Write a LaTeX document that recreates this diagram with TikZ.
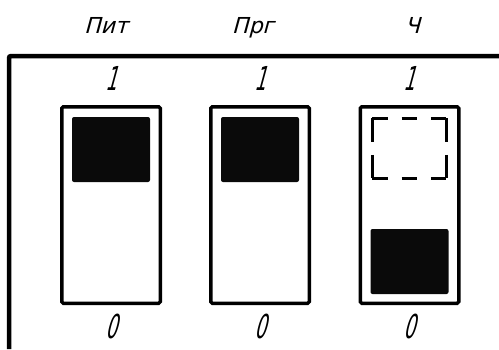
\documentclass[tikz,border=0pt]{standalone}
\usepackage{fontspec}
\newfontfamily\gostname{DejaVu Sans}[FakeSlant=0.27,FakeStretch=1.0]
\newfontfamily\gostdigit{DejaVu Sans}[FakeSlant=0.27,FakeStretch=0.55]
\usetikzlibrary{positioning}
\tikzset{
  switchbox/.style={draw, line width=3.5pt, rounded corners=1.5pt, minimum width=98.5pt, minimum height=196.5pt, inner sep=0pt},
  knob/.style={fill=black!96, rounded corners=2pt, minimum width=78pt, minimum height=65pt, inner sep=0pt},
  ghost/.style={draw=none, minimum width=74pt, minimum height=60pt, inner sep=0pt},
  digit/.style={font=\gostdigit\fontsize{33}{33}\selectfont, inner sep=0pt, anchor=base},
  switchname/.style={font=\gostname\fontsize{22}{22}\selectfont, inner sep=0pt, anchor=base}
}

\begin{document}
\begin{tikzpicture}[x=1pt,y=-1pt,line join=miter]
\useasboundingbox (0,0) rectangle (499,349);
\draw[line width=4.5pt, rounded corners=2pt] (499,56) -- (9,56) -- (9,349);
\foreach \s/\x/\dx/\lbl in {pit/111/-5/Пит, prg/260/-7/Прг, ch/409.5/3/Ч}{
  \node[switchbox] (\s) at (\x,205) {};
  \node[switchname] (\s-name) at ([xshift=\dx pt,yshift=71.75pt]\s.north) {\lbl};
  \node[digit] (\s-one) at ([yshift=14.75pt]\s.north) {1};
  \node[digit] (\s-zero) at ([yshift=-33.75pt]\s.south) {0};
}
\node[knob] (pit-knob) at ([yshift=55.5pt]pit.center) {};
\node[knob] (prg-knob) at ([yshift=55.5pt]prg.center) {};
\node[knob] (ch-knob) at ([yshift=-56.5pt]ch.center) {};
\node[ghost] (ch-ghost) at ([yshift=56.5pt]ch.center) {};
\draw[line width=3pt, line cap=square, dash pattern=on 15.5pt off 13.75pt]
  (ch-ghost.north west) -- (ch-ghost.north east)
  (ch-ghost.south west) -- (ch-ghost.south east);
\draw[line width=3pt, line cap=square, dash pattern=on 23.5pt off 13pt]
  (ch-ghost.north west) -- (ch-ghost.south west)
  (ch-ghost.north east) -- (ch-ghost.south east);
\end{tikzpicture}
\end{document}
